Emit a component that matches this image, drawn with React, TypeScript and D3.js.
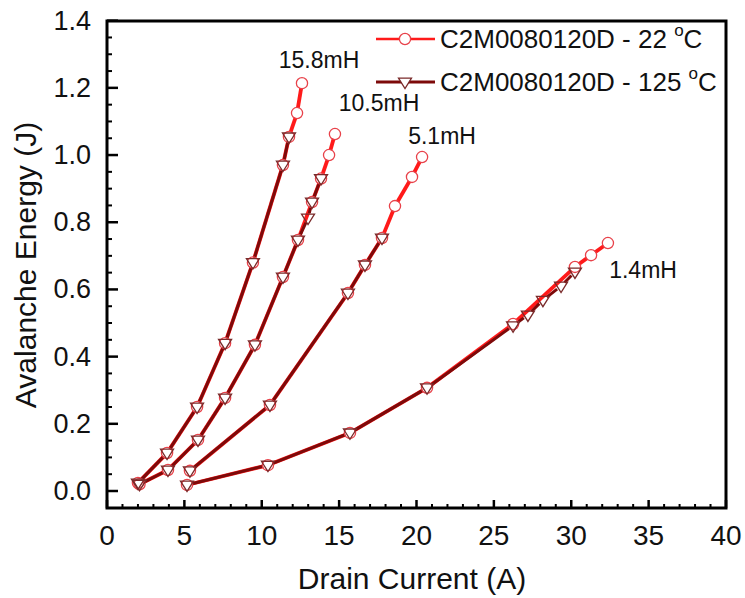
import React from "react";
import * as d3 from "d3";

// ---- Data ----
const inductances = ["15.8mH", "10.5mH", "5.1mH", "1.4mH"];

// 22 °C (circles)
const i22_158 = [2.0, 3.88, 5.82, 7.63, 9.43, 11.37, 11.76, 12.28, 12.6];
const e22_158 = [0.024, 0.113, 0.25, 0.44, 0.68, 0.97, 1.054, 1.125, 1.214];
const i22_105 = [2.1, 3.94, 5.88, 7.63, 9.56, 11.37, 12.34, 13.25, 13.83, 14.35, 14.73];
const e22_105 = [0.02, 0.0625, 0.152, 0.277, 0.435, 0.637, 0.747, 0.86, 0.93, 1.0, 1.0625];
const i22_51 = [5.36, 10.53, 15.57, 16.67, 17.77, 18.61, 19.71, 20.36];
const e22_51 = [0.06, 0.256, 0.589, 0.673, 0.753, 0.848, 0.935, 0.994];
const i22_14 = [5.17, 10.4, 15.7, 20.68, 26.24, 30.24, 31.28, 32.37];
const e22_14 = [0.018, 0.077, 0.173, 0.307, 0.497, 0.667, 0.702, 0.738];

// 125 °C (triangles)
const i125_158 = [2.0, 3.88, 5.82, 7.63, 9.43, 11.37, 11.76];
const e125_158 = [0.024, 0.113, 0.25, 0.44, 0.68, 0.97, 1.054];
const i125_105 = [2.1, 3.94, 5.88, 7.63, 9.56, 11.37, 12.34, 12.99, 13.25, 13.83];
const e125_105 = [0.02, 0.0625, 0.152, 0.277, 0.435, 0.637, 0.747, 0.8125, 0.86, 0.93];
const i125_51 = [5.36, 10.53, 15.57, 16.67, 17.77];
const e125_51 = [0.06, 0.256, 0.589, 0.673, 0.753];
const i125_14 = [5.17, 10.4, 15.7, 20.68, 26.24, 27.2, 28.17, 29.34, 30.24];
const e125_14 = [0.018, 0.077, 0.173, 0.307, 0.492, 0.524, 0.568, 0.61, 0.652];

// annotation anchors (data coords)
const labelX = [13.7, 17.58, 21.65, 34.64];
const labelY = [1.283, 1.155, 1.057, 0.658];

const xTicks = [0, 5, 10, 15, 20, 25, 30, 35, 40];
const yTicks = [0.0, 0.2, 0.4, 0.6, 0.8, 1.0, 1.2, 1.4];
const legendLabels = ["C2M0080120D - 22 ", "C2M0080120D - 125 "];

const series22 = [
  [i22_158, e22_158],
  [i22_105, e22_105],
  [i22_51, e22_51],
  [i22_14, e22_14],
];
const series125 = [
  [i125_158, e125_158],
  [i125_105, e125_105],
  [i125_51, e125_51],
  [i125_14, e125_14],
];

const RED = "#ff1a1a";
const CIRC = "#e8424a";
const DARK = "#7d0a0a";
const TRI = "#7a2a2a";
const FONT = "Liberation Sans, Arial, Helvetica, sans-serif";

const W = 745;
const H = 598;
const x = d3.scaleLinear().domain([0, 40]).range([107, 726]);
const y = d3.scaleLinear().domain([-0.0506, 1.399]).range([508, 21]);

function toPts(xs: number[], ys: number[]) {
  return xs.map((v, i) => [x(v), y(ys[i])] as [number, number]);
}

// segments with gaps at markers
function gapSegments(pts: [number, number][], gap: number) {
  const out: string[] = [];
  for (let i = 0; i < pts.length - 1; i++) {
    const [x1, y1] = pts[i];
    const [x2, y2] = pts[i + 1];
    const dx = x2 - x1, dy = y2 - y1;
    const len = Math.hypot(dx, dy);
    if (len <= gap * 2) continue;
    const ux = dx / len, uy = dy / len;
    out.push(
      d3.line()([
        [x1 + ux * gap, y1 + uy * gap],
        [x2 - ux * gap, y2 - uy * gap],
      ]) as string
    );
  }
  return out;
}

const triPath = (cx: number, cy: number, s = 6.5) =>
  `M${cx - s},${cy - s * 0.6}L${cx + s},${cy - s * 0.6}L${cx},${cy + s * 1.0}Z`;

export default function App() {
  const xMinor = d3.range(0, 41, 1).filter((v) => v % 5 !== 0);
  const yMinor = d3.range(0, 1.4001, 0.05).filter((v) => Math.abs(Math.round(v * 5) - v * 5) > 1e-6);

  return (
    <svg
      width={W}
      height={H}
      style={{ position: "absolute", left: 0, top: 0, background: "#fff" }}
      fontFamily={FONT}
    >
      <rect width={W} height={H} fill="#fff" />

      {/* 22 °C lines (red) */}
      {series22.map(([xs, ys], k) =>
        gapSegments(toPts(xs, ys), 5).map((d, j) => (
          <path key={`r${k}-${j}`} d={d} stroke={RED} strokeWidth={3.8} fill="none" />
        ))
      )}
      {/* 125 °C lines (dark red) */}
      {series125.map(([xs, ys], k) =>
        gapSegments(toPts(xs, ys), 5).map((d, j) => (
          <path key={`d${k}-${j}`} d={d} stroke={DARK} strokeWidth={3} fill="none" />
        ))
      )}

      {/* circles */}
      {series22.map(([xs, ys], k) =>
        toPts(xs, ys).map(([cx, cy], j) => (
          <circle key={`c${k}-${j}`} cx={cx} cy={cy} r={5.6} fill="none" stroke={CIRC} strokeWidth={1.3} />
        ))
      )}
      {/* triangles */}
      {series125.map(([xs, ys], k) =>
        toPts(xs, ys).map(([cx, cy], j) => (
          <path key={`t${k}-${j}`} d={triPath(cx, cy)} fill="none" stroke={TRI} strokeWidth={1.3} />
        ))
      )}

      {/* annotations */}
      {inductances.map((t, i) => (
        <text
          key={t}
          x={x(labelX[i])}
          y={y(labelY[i])}
          textAnchor="middle"
          dominantBaseline="central"
          fontSize={23}
          fill="#111"
        >
          {t}
        </text>
      ))}

      {/* frame */}
      <rect x={107} y={21} width={726 - 107} height={508 - 21} fill="none" stroke="#000" strokeWidth={3} />

      {/* x ticks */}
      {xTicks.map((v) => (
        <g key={`xt${v}`}>
          <line x1={x(v)} x2={x(v)} y1={508} y2={500} stroke="#000" strokeWidth={2.5} />
          <text x={x(v)} y={535} textAnchor="middle" dominantBaseline="central" fontSize={28} fill="#111">
            {v}
          </text>
        </g>
      ))}
      {xMinor.map((v) => (
        <line key={`xm${v}`} x1={x(v)} x2={x(v)} y1={508} y2={504} stroke="#000" strokeWidth={2} />
      ))}

      {/* y ticks */}
      {yTicks.map((v) => (
        <g key={`yt${v}`}>
          <line x1={107} x2={118} y1={y(v)} y2={y(v)} stroke="#000" strokeWidth={2.5} />
          <text x={91} y={y(v)} textAnchor="end" dominantBaseline="central" fontSize={27} fill="#111">
            {v.toFixed(1)}
          </text>
        </g>
      ))}
      {yMinor.map((v) => (
        <line key={`ym${v}`} x1={107} x2={112} y1={y(v)} y2={y(v)} stroke="#000" strokeWidth={2} />
      ))}

      {/* axis titles */}
      <text x={412} y={578} textAnchor="middle" dominantBaseline="central" fontSize={30} fill="#111">
        Drain Current (A)
      </text>
      <text
        transform={`translate(25,${265}) rotate(-90)`}
        textAnchor="middle"
        dominantBaseline="central"
        fontSize={30}
        fill="#111"
      >
        Avalanche Energy (J)
      </text>

      {/* legend */}
      <g>
        <line x1={376} x2={435} y1={39} y2={39} stroke={RED} strokeWidth={2.5} />
        <circle cx={405} cy={39} r={5.6} fill="#fff" stroke={CIRC} strokeWidth={1.3} />
        <text x={440} y={39} dominantBaseline="central" fontSize={26} fill="#111">
          {legendLabels[0]}
          <tspan fontSize={17} dy={-9}>o</tspan>
          <tspan dy={9}>C</tspan>
        </text>
        <line x1={376} x2={435} y1={82} y2={82} stroke={DARK} strokeWidth={3} />
        <path d={triPath(405, 82)} fill="#fff" stroke={TRI} strokeWidth={1.3} />
        <text x={440} y={82} dominantBaseline="central" fontSize={26} fill="#111">
          {legendLabels[1]}
          <tspan fontSize={17} dy={-9}>o</tspan>
          <tspan dy={9}>C</tspan>
        </text>
      </g>
    </svg>
  );
}
